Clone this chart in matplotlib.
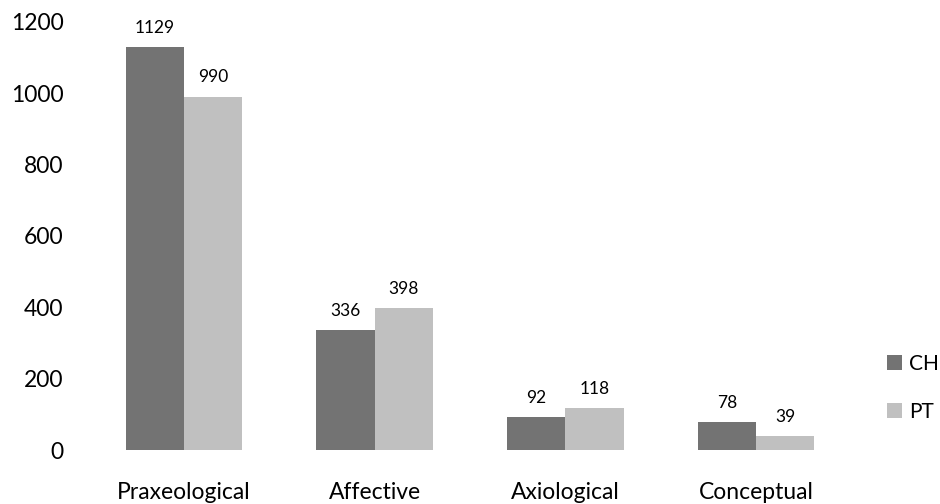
import matplotlib.pyplot as plt
import numpy as np

plt.rcParams['font.family'] = ['Lato', 'DejaVu Sans']

categories = ['Praxeological', 'Affective', 'Axiological', 'Conceptual']
ch_counts = [1129, 336, 92, 78]
pt_counts = [990, 398, 118, 39]

x = np.arange(len(categories))
width = 0.305

fig = plt.figure(figsize=(9.4, 5.04), dpi=100)
ax = fig.add_axes([0.0941, 0.1071, 0.8118, 0.85])

bars_ch = ax.bar(x - width / 2, ch_counts, width, color='#737373', label='CH')
bars_pt = ax.bar(x + width / 2, pt_counts, width, color='#c0c0c0', label='PT')

for bars in (bars_ch, bars_pt):
    for b in bars:
        ax.annotate(str(int(b.get_height())), (b.get_x() + b.get_width() / 2, b.get_height()),
                    xytext=(0, 8), textcoords='offset points', ha='center', va='bottom',
                    fontsize=12.5)

ax.set_xlim(-0.5, 3.5)
ax.set_ylim(0, 1200)
ax.set_yticks(range(0, 1201, 200))
ax.set_xticks(x)
ax.set_xticklabels(categories)
ax.tick_params(axis='y', length=0, pad=18, labelsize=16.5)
ax.tick_params(axis='x', length=0, pad=23, labelsize=16.5)
for s in ax.spines.values():
    s.set_visible(False)

ax.legend(loc='center left', bbox_to_anchor=(1.022, 0.145), frameon=False, fontsize=15,
          handlelength=0.7, handleheight=0.7, handletextpad=0.35, labelspacing=1.35)

plt.savefig('out.png', dpi=100)
